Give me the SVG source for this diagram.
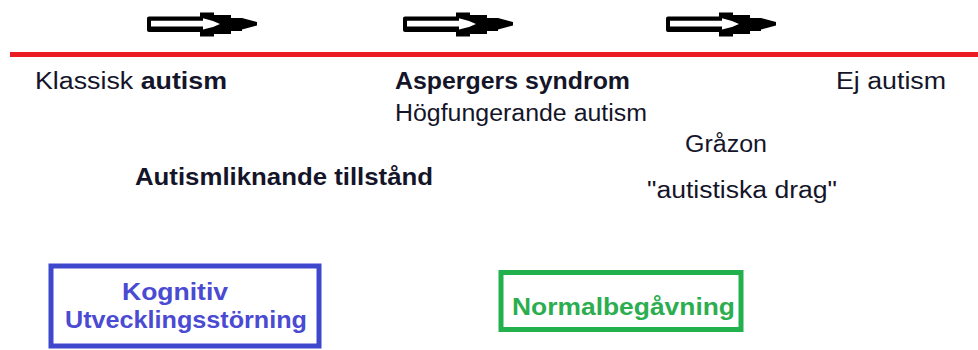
<svg xmlns="http://www.w3.org/2000/svg" xmlns:xlink="http://www.w3.org/1999/xlink" width="978" height="350" viewBox="0 0 978 350">
  <style>
    text { font-family: "Liberation Sans", Arial, sans-serif; font-size: 23.5px; fill: #15152a; }
    .b { font-weight: bold; }
    .blue { fill: #4a4ad2; font-weight: bold; }
    .green { fill: #2cae50; font-weight: bold; }
  </style>
  <defs>
    <!-- hollow block arrow pointing right -->
    <g id="blockArrow">
      <path d="M149,16.5 H200 V12.5 H214 V15 H231 V18 H242 L257,22 V25.5 L242,29.5 V31 H231 V34 H214 V36.5 H200 V32 H149 Q147,32 147,30 V18.5 Q147,16.5 149,16.5 Z" fill="#000"/>
      <path d="M151,20.7 H203 V18.3 L213,21 L220,24 L213,27 L203,29.5 V26.5 H151 Z" fill="#fff"/>
    </g>
  </defs>

  <rect width="978" height="350" fill="#fff"/>

  <!-- spectrum axis and direction arrows -->
  <g id="connectors">
    <line x1="10" y1="54.5" x2="978" y2="54.5" stroke="#ec1c24" stroke-width="5"/>
    <use xlink:href="#blockArrow"/>
    <use xlink:href="#blockArrow" transform="translate(256,0)"/>
    <use xlink:href="#blockArrow" transform="translate(519,0)"/>
  </g>

  <g id="klassisk">
    <text x="35" y="89" textLength="192" lengthAdjust="spacingAndGlyphs">Klassisk <tspan class="b">autism</tspan></text>
  </g>

  <g id="asperger">
    <text class="b" x="395" y="89" textLength="235" lengthAdjust="spacingAndGlyphs">Aspergers syndrom</text>
    <text x="395" y="121" textLength="252" lengthAdjust="spacingAndGlyphs">Högfungerande autism</text>
  </g>

  <g id="ej-autism">
    <text x="836" y="89" textLength="110" lengthAdjust="spacingAndGlyphs">Ej autism</text>
  </g>

  <g id="grazon">
    <text x="685" y="152" textLength="82" lengthAdjust="spacingAndGlyphs">Gråzon</text>
    <text x="647" y="198" textLength="190" lengthAdjust="spacingAndGlyphs">"autistiska drag"</text>
  </g>

  <g id="autismliknande">
    <text class="b" x="135" y="185" textLength="298" lengthAdjust="spacingAndGlyphs">Autismliknande tillstånd</text>
  </g>

  <g id="kognitiv">
    <rect x="51" y="266" width="268" height="80" fill="none" stroke="#3f48cc" stroke-width="5"/>
    <text class="blue" x="122" y="300" textLength="106" lengthAdjust="spacingAndGlyphs">Kognitiv</text>
    <text class="blue" x="65" y="328" textLength="242" lengthAdjust="spacingAndGlyphs">Utvecklingsstörning</text>
  </g>

  <g id="normalbegavning">
    <rect x="501" y="272.5" width="240" height="57" fill="none" stroke="#22b14c" stroke-width="5"/>
    <text class="green" x="512" y="315" textLength="223" lengthAdjust="spacingAndGlyphs">Normalbegåvning</text>
  </g>
</svg>
